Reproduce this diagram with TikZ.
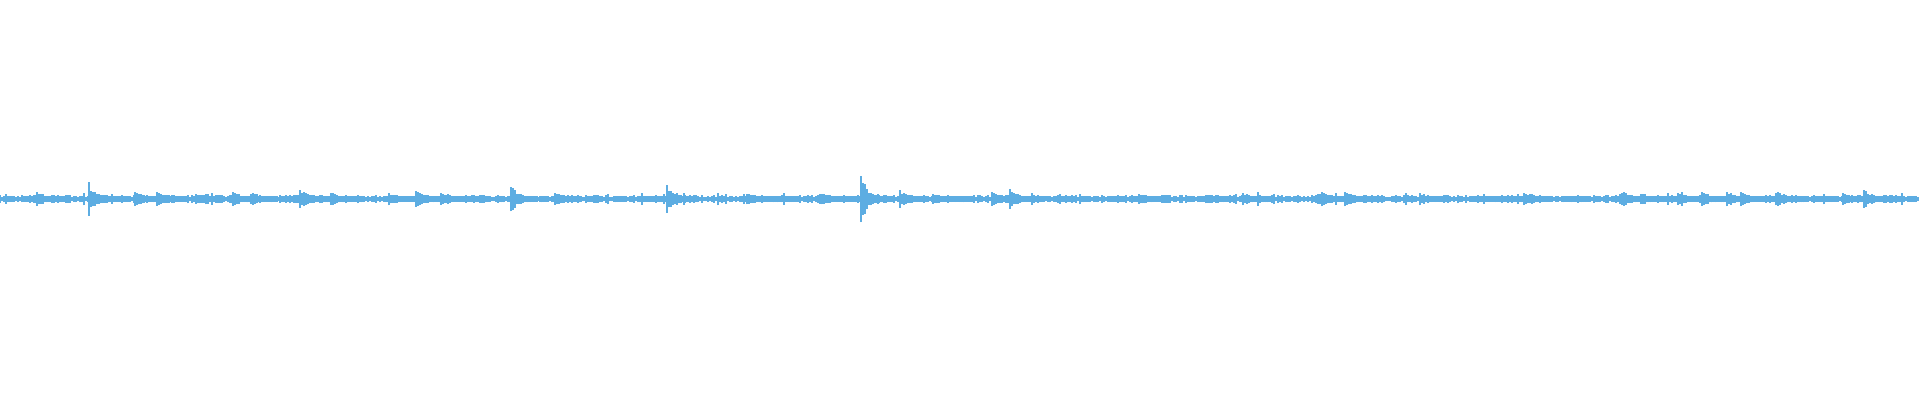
\documentclass[tikz,border=0pt]{standalone}
\usepackage{tikz}
\definecolor{wavecol}{RGB}{93,173,226}
\tikzset{
  wavebar/.style={wavecol, line width=0.6pt}
}
\begin{document}
\begin{tikzpicture}[x=0.01cm, y=0.01cm]
    \useasboundingbox (0,0) rectangle (1920,400);
    \pgfmathsetseed{7}

    % steady band along the whole track
    \foreach \px in {0,2,...,1918} {
        \pgfmathsetmacro{\amp}{2.2+1.6*rnd+3*rnd^20}
        \draw[wavebar] (\px,201-\amp) -- (\px,201+\amp);
    }

    % bursts: centre / peak
    \foreach \c/\a in {37/6, 89/15, 135/6, 157/6, 196/4, 233/5, 251/5, 300/10,
                       331/5, 389/4, 416/7, 441/4, 511/12, 555/6, 667/15, 747/4,
                       820/5, 861/22, 900/7, 933/4, 992/6, 1010/8, 1139/5, 1206/4,
                       1243/4, 1322/5, 1345/7, 1420/4, 1524/5, 1622/6, 1641/5,
                       1678/4, 1702/5, 1727/6, 1741/6, 1776/7, 1843/4, 1864/7} {
        \foreach \k in {0,2,...,26} {
            \pgfmathsetmacro{\amp}{2.5+\a*exp(-\k/7)*(0.45+0.55*rnd)}
            \draw[wavebar] (\c+\k,201-\amp) -- (\c+\k,201+\amp);
        }
    }
\end{tikzpicture}
\end{document}
